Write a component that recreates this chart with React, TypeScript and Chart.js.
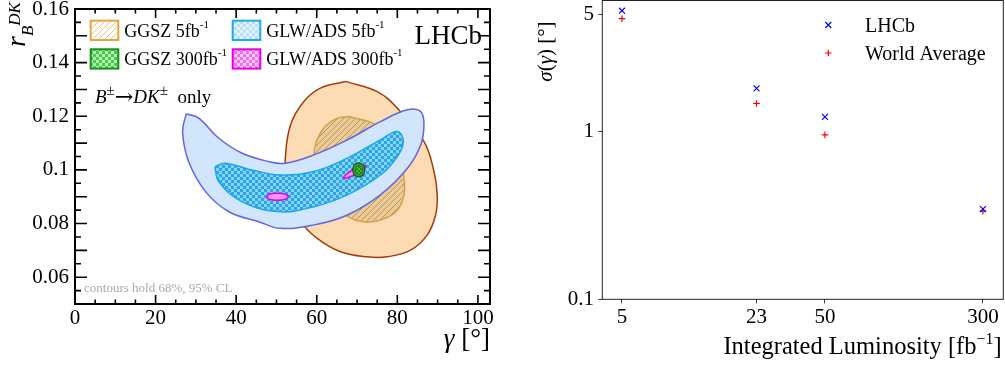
import React, { useEffect, useRef } from 'react';
import { Chart, registerables } from 'chart.js';

Chart.register(...registerables);

const SERIF = '"Liberation Serif", "Times New Roman", serif';
const f = (size: number, style = '') => `${style} ${size}px ${SERIF}`.trim();

// ---------------- Left panel data: contour outlines (gamma [deg], r_B^DK) ----------------
const ggsz5fb95: number[][] = [
  [67.1, 0.133], [75.0, 0.1292], [80.0, 0.123], [86.6, 0.1106], [89.1, 0.0994], [89.9, 0.0907],
  [89.5, 0.0832], [87.4, 0.0757], [83.3, 0.0701], [77.5, 0.0676], [72.5, 0.0676], [65.9, 0.0695],
  [60.1, 0.0745], [56.0, 0.0807], [53.5, 0.0888], [52.4, 0.0965], [52.2, 0.1044], [53.5, 0.1168],
  [56.8, 0.1255], [60.9, 0.1305],
];
const ggsz5fb68: number[][] = [
  [68.0, 0.1199], [74.6, 0.1168], [79.6, 0.1093], [81.8, 0.0944], [80.8, 0.0869], [77.8, 0.0825],
  [72.1, 0.0806], [67.1, 0.0832], [62.7, 0.0907], [59.9, 0.0993], [59.4, 0.1075], [61.4, 0.1149],
  [64.7, 0.119],
];
const glw5fb95: number[][] = [
  [27.6, 0.1209], [30.7, 0.1193], [35.7, 0.1118], [41.5, 0.1062], [48.1, 0.1031], [52.2, 0.1025],
  [59.3, 0.1056], [67.6, 0.1112], [75.8, 0.118], [82.5, 0.1224], [85.8, 0.1218], [86.6, 0.1168],
  [85.8, 0.1093], [82.5, 0.1006], [75.8, 0.0907], [67.6, 0.0832], [59.3, 0.0795], [51.0, 0.0782],
  [45.6, 0.0807], [38.2, 0.0844], [32.4, 0.0919], [28.2, 0.1031], [26.7, 0.1143],
];
const glw5fb68: number[][] = [
  [34.7, 0.1012], [37.3, 0.1025], [43.9, 0.1], [51.0, 0.0981], [59.3, 0.0994], [67.6, 0.1044],
  [75.8, 0.1112], [80.0, 0.1143], [81.5, 0.1106], [80.0, 0.105], [75.8, 0.0981], [67.6, 0.0907],
  [59.3, 0.0863], [51.0, 0.0844], [41.5, 0.0881], [35.7, 0.0956],
];
const glw300fbA: number[][] = [
  [47.5, 0.09], [48.3, 0.091], [50.2, 0.0913], [52.1, 0.091], [52.9, 0.09], [52.1, 0.089],
  [50.2, 0.0887], [48.3, 0.089],
];
const glw300fbB: number[][] = [
  [66.5, 0.097], [67.2, 0.0982], [69.1, 0.1001], [71.2, 0.1014], [72.2, 0.1015], [71.6, 0.1003],
  [69.7, 0.0984], [67.6, 0.0971],
];
const ggsz300fb95: number[][] = [
  [68.9, 0.1], [69.3, 0.1019], [70.4, 0.1026], [71.5, 0.1019], [71.9, 0.1], [71.5, 0.0981],
  [70.4, 0.0974], [69.3, 0.0981],
];
const ggsz300fb68: number[][] = [
  [69.5, 0.1], [69.8, 0.1011], [70.4, 0.1016], [71.0, 0.1011], [71.3, 0.1], [71.0, 0.0989],
  [70.4, 0.0984], [69.8, 0.0989],
];
const gammaRange = [0, 103];
const gammaTicks = [0, 5, 10, 15, 20, 25, 30, 35, 40, 45, 50, 55, 60, 65, 70, 75, 80, 85, 90, 95, 100];
const gammaTickLabels = ['0', '20', '40', '60', '80', '100'];
const rbRange = [0.05, 0.16];
const rbTickLabels = ['0.06', '0.08', '0.1', '0.12', '0.14', '0.16'];

// ---------------- Right panel data ----------------
const lumi = [5, 23, 50, 300];
const lumiLabels = ['5', '23', '50', '300'];
const sigmaLHCb = [5.3, 1.82, 1.23, 0.346];
const sigmaWorld = [4.75, 1.48, 0.96, 0.336];
const sigmaTicks = [0.1, 1, 5];
const sigmaTickLabels = ['0.1', '1', '5'];

// ---------------- helpers ----------------
type Part = { t: string; font: string; dy?: number };
function richWidth(ctx: CanvasRenderingContext2D, parts: Part[]) {
  let w = 0;
  for (const p of parts) { ctx.font = p.font; w += ctx.measureText(p.t).width; }
  return w;
}
function drawRich(ctx: CanvasRenderingContext2D, x: number, y: number, parts: Part[], align = 'left', color = '#000') {
  ctx.fillStyle = color;
  ctx.textBaseline = 'alphabetic';
  ctx.textAlign = 'left';
  let cx = align === 'right' ? x - richWidth(ctx, parts) : x;
  for (const p of parts) {
    ctx.font = p.font;
    ctx.fillText(p.t, cx, y + (p.dy || 0));
    cx += ctx.measureText(p.t).width;
  }
}
function hatchPattern(bg: string | null, fg: string, size: number, lw: number) {
  const c = document.createElement('canvas');
  c.width = size; c.height = size;
  const g = c.getContext('2d')!;
  if (bg) { g.fillStyle = bg; g.fillRect(0, 0, size, size); }
  g.strokeStyle = fg; g.lineWidth = lw;
  g.beginPath();
  g.moveTo(-1, size + 1); g.lineTo(size + 1, -1);
  g.moveTo(-2, 2); g.lineTo(2, -2);
  g.moveTo(size - 2, size + 2); g.lineTo(size + 2, size - 2);
  g.stroke();
  return g.createPattern(c, 'repeat')!;
}
function checkerPattern(a: string, b: string, cell: number) {
  const c = document.createElement('canvas');
  c.width = cell * 2; c.height = cell * 2;
  const g = c.getContext('2d')!;
  g.fillStyle = a; g.fillRect(0, 0, cell * 2, cell * 2);
  g.fillStyle = b; g.fillRect(0, 0, cell, cell); g.fillRect(cell, cell, cell, cell);
  return g.createPattern(c, 'repeat')!;
}
const toPts = (arr: number[][]) => [...arr, arr[0]].map(([x, y]) => ({ x, y }));

function contour(label: string, pts: number[][], fill: any, stroke: string, lw: number, order: number) {
  return {
    label, data: toPts(pts), showLine: true, fill: 'shape', backgroundColor: fill,
    borderColor: stroke, borderWidth: lw, pointRadius: 0, pointHoverRadius: 0,
    tension: 0.4, order,
  };
}
const noPadV = (s: any) => { s.paddingTop = 0; s.paddingBottom = 0; };
const noPadH = (s: any) => { s.paddingLeft = 0; s.paddingRight = 0; };

// ---------------- left chart ----------------
function leftConfig(): any {
  const tanHatch = hatchPattern('rgb(234,202,152)', 'rgb(198,148,82)', 6, 1);
  const cyanCheck = checkerPattern('rgb(38,168,232)', 'rgb(140,210,246)', 3);
  const greenCheck = checkerPattern('rgb(60,200,60)', 'rgb(25,140,25)', 2);
  const legGGSZ5 = hatchPattern('#fff', 'rgb(242,190,120)', 6, 1);
  const legGGSZ300 = checkerPattern('rgb(70,205,70)', 'rgb(185,240,185)', 3);
  const legGLW5 = checkerPattern('rgb(180,225,248)', 'rgb(228,244,253)', 3);
  const legGLW300 = checkerPattern('rgb(240,110,240)', 'rgb(252,205,252)', 3);

  const datasets = [
    contour('GGSZ 5fb-1 95%', ggsz5fb95, 'rgb(252,219,181)', 'rgb(165,60,10)', 1.5, 8),
    contour('GGSZ 5fb-1 68%', ggsz5fb68, tanHatch, 'rgb(212,160,75)', 1.5, 7),
    contour('GLW/ADS 5fb-1 95%', glw5fb95, 'rgb(209,230,252)', 'rgb(100,100,222)', 1.5, 6),
    contour('GLW/ADS 5fb-1 68%', glw5fb68, cyanCheck, 'rgb(28,168,230)', 1.5, 5),
    contour('GLW/ADS 300fb-1 a', glw300fbA, 'rgb(245,150,245)', 'rgb(225,0,225)', 1.5, 4),
    contour('GLW/ADS 300fb-1 b', glw300fbB, 'rgb(245,150,245)', 'rgb(225,0,225)', 1.5, 3),
    contour('GGSZ 300fb-1 95%', ggsz300fb95, 'rgb(70,150,70)', 'rgb(20,90,20)', 1.2, 2),
    contour('GGSZ 300fb-1 68%', ggsz300fb68, greenCheck, 'rgb(20,110,20)', 1, 1),
  ];

  const legend = [
    { x: 90.7, y: 20.7, fill: legGGSZ5, stroke: 'rgb(228,165,70)', label: 'GGSZ 5fb' },
    { x: 90.7, y: 49.3, fill: legGGSZ300, stroke: 'rgb(25,140,25)', label: 'GGSZ 300fb' },
    { x: 232.7, y: 20.7, fill: legGLW5, stroke: 'rgb(30,170,232)', label: 'GLW/ADS 5fb' },
    { x: 232.7, y: 49.3, fill: legGLW300, stroke: 'rgb(228,0,228)', label: 'GLW/ADS 300fb' },
  ];

  const decor = {
    id: 'leftDecor',
    afterDraw(chart: any) {
      const { ctx, chartArea: a, scales } = chart;
      const xs = scales.x, ys = scales.y;
      ctx.save();
      // ticks (inward, all four sides)
      ctx.strokeStyle = '#000';
      ctx.lineWidth = 1.6;
      ctx.beginPath();
      xs.ticks.forEach((t: any) => {
        const v = t.value;
        const p = xs.getPixelForValue(v);
        const len = Math.abs(v / 20 - Math.round(v / 20)) < 1e-6 ? 9 : 4.5;
        ctx.moveTo(p, a.bottom); ctx.lineTo(p, a.bottom - len);
        ctx.moveTo(p, a.top); ctx.lineTo(p, a.top + len);
      });
      ys.ticks.forEach((t: any) => {
        const v = t.value;
        const k = Math.round(v / 0.005);
        const p = ys.getPixelForValue(v);
        const len = k % 2 === 0 ? 12 : 6;
        ctx.moveTo(a.left, p); ctx.lineTo(a.left + len, p);
        ctx.moveTo(a.right, p); ctx.lineTo(a.right - len, p);
      });
      ctx.stroke();
      // frame
      ctx.lineWidth = 2;
      ctx.strokeRect(a.left, a.top, a.right - a.left, a.bottom - a.top);

      // legend
      for (const it of legend) {
        ctx.fillStyle = it.fill;
        ctx.fillRect(it.x, it.y, 27.6, 19.3);
        ctx.strokeStyle = it.stroke;
        ctx.lineWidth = 2;
        ctx.strokeRect(it.x, it.y, 27.6, 19.3);
        drawRich(ctx, it.x + 33.6, it.y + 16, [
          { t: it.label, font: f(18) },
          { t: '-1', font: f(11), dy: -9 },
        ]);
      }
      // LHCb label
      drawRich(ctx, 482, 44, [{ t: 'LHCb', font: f(27) }], 'right');
      // B -> DK only
      drawRich(ctx, 95, 102.7, [
        { t: 'B', font: f(19, 'italic') },
        { t: '±', font: f(15), dy: -8 },
        { t: '→', font: '22px "DejaVu Serif", serif', dy: 1 },
        { t: 'DK', font: f(19, 'italic') },
        { t: '±', font: f(15), dy: -8 },
        { t: '  only', font: f(19) },
      ]);
      // CL note
      drawRich(ctx, 84, 291.5, [{ t: 'contours hold 68%, 95% CL', font: f(13) }], 'left', 'rgb(170,170,170)');
      // x title
      drawRich(ctx, 490, 347, [
        { t: 'γ', font: f(27, 'italic') },
        { t: ' [°]', font: f(27) },
      ], 'right');
      // y title (rotated)
      ctx.save();
      ctx.translate(25, 47);
      ctx.rotate(-Math.PI / 2);
      drawRich(ctx, 0, 0, [
        { t: 'r', font: f(28, 'italic') },
        { t: 'B', font: f(17, 'italic'), dy: 8 },
        { t: 'DK', font: f(17, 'italic'), dy: -5 },
      ]);
      ctx.restore();
      ctx.restore();
    },
  };

  return {
    type: 'scatter',
    data: { datasets },
    options: {
      animation: false,
      responsive: false,
      devicePixelRatio: 1,
      events: [],
      layout: { autoPadding: false, padding: { left: 0, top: 9, right: 10, bottom: 0 } },
      plugins: { legend: { display: false }, tooltip: { enabled: false } },
      scales: {
        x: {
          type: 'linear', min: gammaRange[0], max: gammaRange[1],
          afterBuildTicks: (s: any) => { s.ticks = gammaTicks.map((v) => ({ value: v })); },
          afterFit: (s: any) => { s.height = 63; noPadH(s); },
          grid: { display: false, drawTicks: false },
          border: { display: false },
          ticks: {
            autoSkip: false, maxRotation: 0, padding: 2, color: '#000',
            font: { family: SERIF, size: 21 },
            callback: (v: number) => {
              const q = v / 20;
              return Math.abs(q - Math.round(q)) < 1e-6 ? gammaTickLabels[Math.round(q)] : '';
            },
          },
        },
        y: {
          type: 'linear', min: rbRange[0], max: rbRange[1],
          afterFit: (s: any) => { s.width = 75; noPadV(s); },
          grid: { display: false, drawTicks: false },
          border: { display: false },
          ticks: {
            stepSize: 0.005, autoSkip: false, padding: 6, color: '#000',
            font: { family: SERIF, size: 21 },
            callback: (v: number) => {
              const q = (v - 0.06) / 0.02;
              return Math.abs(q - Math.round(q)) < 1e-6 && v > 0.055 ? rbTickLabels[Math.round(q)] : '';
            },
          },
        },
      },
    },
    plugins: [decor],
  };
}

// ---------------- right chart ----------------
function rightConfig(): any {
  const decor = {
    id: 'rightDecor',
    afterDraw(chart: any) {
      const { ctx, chartArea: a } = chart;
      ctx.save();
      ctx.strokeStyle = '#222';
      ctx.lineWidth = 1;
      ctx.strokeRect(a.left, a.top, a.right - a.left, a.bottom - a.top);
      // legend
      const mx = 328.3;
      ctx.lineWidth = 1.2;
      ctx.strokeStyle = 'rgb(0,0,255)';
      ctx.beginPath();
      ctx.moveTo(mx - 3, 25 - 3); ctx.lineTo(mx + 3, 25 + 3);
      ctx.moveTo(mx - 3, 25 + 3); ctx.lineTo(mx + 3, 25 - 3);
      ctx.stroke();
      ctx.strokeStyle = 'rgb(255,0,0)';
      ctx.beginPath();
      ctx.moveTo(mx - 3.3, 53); ctx.lineTo(mx + 3.3, 53);
      ctx.moveTo(mx, 53 - 3.3); ctx.lineTo(mx, 53 + 3.3);
      ctx.stroke();
      drawRich(ctx, 365, 32, [{ t: 'LHCb', font: f(20) }]);
      drawRich(ctx, 365, 60, [{ t: 'World Average', font: f(20) }]);
      // x title
      drawRich(ctx, 501.7, 354, [
        { t: 'Integrated Luminosity [fb', font: f(24.5) },
        { t: '−1', font: f(16), dy: -10 },
        { t: ']', font: f(24.5) },
      ], 'right');
      // y title
      ctx.save();
      ctx.translate(52.3, 81.7);
      ctx.rotate(-Math.PI / 2);
      drawRich(ctx, 0, 0, [
        { t: 'σ', font: f(21, 'italic') },
        { t: '(', font: f(21) },
        { t: 'γ', font: f(21, 'italic') },
        { t: ') [°]', font: f(21) },
      ]);
      ctx.restore();
      ctx.restore();
    },
  };

  return {
    type: 'scatter',
    data: {
      datasets: [
        {
          label: 'LHCb', data: lumi.map((x, i) => ({ x, y: sigmaLHCb[i] })),
          pointStyle: 'crossRot', pointRadius: 4.2, borderColor: 'rgb(0,0,255)', backgroundColor: 'rgb(0,0,255)', borderWidth: 1.2,
        },
        {
          label: 'World Average', data: lumi.map((x, i) => ({ x, y: sigmaWorld[i] })),
          pointStyle: 'cross', pointRadius: 3.3, borderColor: 'rgb(255,0,0)', backgroundColor: 'rgb(255,0,0)', borderWidth: 1.2,
        },
      ],
    },
    options: {
      animation: false,
      responsive: false,
      devicePixelRatio: 1,
      events: [],
      layout: { autoPadding: false, padding: { left: 0, top: 0.5, right: 1.7, bottom: 0 } },
      plugins: { legend: { display: false }, tooltip: { enabled: false } },
      scales: {
        x: {
          type: 'logarithmic', min: 4, max: 378,
          afterBuildTicks: (s: any) => { s.ticks = lumi.map((v) => ({ value: v })); },
          afterFit: (s: any) => { s.height = 67.7; noPadH(s); },
          grid: { drawOnChartArea: false, drawTicks: true, tickLength: 4, color: '#222', lineWidth: 0.9 },
          border: { display: false },
          ticks: {
            autoSkip: false, maxRotation: 0, padding: 1.5, color: '#000',
            font: { family: SERIF, size: 21 },
            callback: (v: number) => { const i = lumi.indexOf(v); return i >= 0 ? lumiLabels[i] : ''; },
          },
        },
        y: {
          type: 'logarithmic', min: 0.1, max: 6.1,
          afterBuildTicks: (s: any) => { s.ticks = sigmaTicks.map((v) => ({ value: v })); },
          afterFit: (s: any) => { s.width = 102.3; noPadV(s); },
          grid: { drawOnChartArea: false, drawTicks: true, tickLength: 4, color: '#222', lineWidth: 0.9 },
          border: { display: false },
          ticks: {
            autoSkip: false, padding: 4.3, color: '#000',
            font: { family: SERIF, size: 21 },
            callback: (v: number) => { const i = sigmaTicks.indexOf(v); return i >= 0 ? sigmaTickLabels[i] : ''; },
          },
        },
      },
    },
    plugins: [decor],
  };
}

export default function App() {
  const leftRef = useRef<HTMLCanvasElement>(null);
  const rightRef = useRef<HTMLCanvasElement>(null);
  useEffect(() => {
    const left = new Chart(leftRef.current!, leftConfig());
    const right = new Chart(rightRef.current!, rightConfig());
    return () => { left.destroy(); right.destroy(); };
  }, []);
  return (
    <div style={{ position: 'absolute', left: 0, top: 0, width: 1005, height: 367, background: '#fff' }}>
      <canvas ref={leftRef} width={500} height={367} style={{ position: 'absolute', left: 0, top: 0, width: 500, height: 367 }} />
      <canvas ref={rightRef} width={505} height={367} style={{ position: 'absolute', left: 500, top: 0, width: 505, height: 367 }} />
    </div>
  );
}
